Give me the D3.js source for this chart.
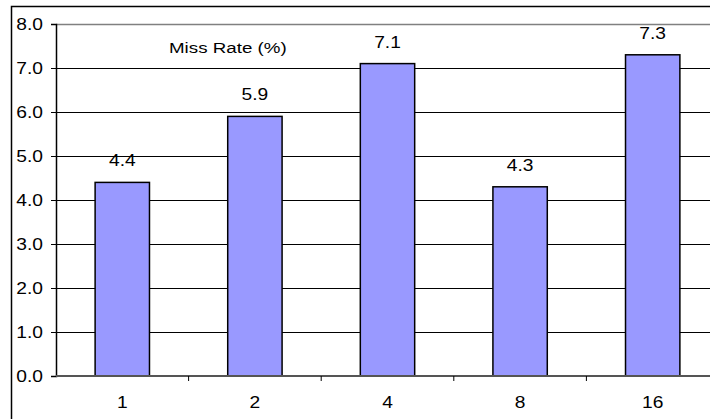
<!DOCTYPE html>
<html>
<head>
<meta charset="utf-8">
<script src="https://cdn.jsdelivr.net/npm/d3@7"></script>
<style>
  html, body { margin: 0; padding: 0; background: #fff; }
  svg { display: block; font-family: "Liberation Sans", Arial, sans-serif; }
</style>
</head>
<body>
<svg id="chart" width="710" height="419"></svg>
<script>
// Cache sizes on the x axis and the measured miss rate for each
const categories = ["1", "2", "4", "8", "16"];
const missRate = [4.4, 5.9, 7.1, 4.3, 7.3];
const yTicks = [0, 1, 2, 3, 4, 5, 6, 7, 8];
const titleText = "Miss Rate (%)";

const svg = d3.select("#chart");
const W = 710, H = 419;
const FONT = 16, STRETCH = 1.2;

// plot frame (extends past the right/bottom edges of the canvas)
const plot = { left: 56, right: 719, top: 24, bottom: 376 };

// outer chart border
svg.append("rect")
  .attr("x", 11.5).attr("y", 6.5)
  .attr("width", 720).attr("height", 430)
  .attr("fill", "#fff").attr("stroke", "#000").attr("stroke-width", 1.5);

const x = d3.scaleBand()
  .domain(categories)
  .range([plot.left, plot.right])
  .paddingInner(0.59)
  .paddingOuter(0.295);

const y = d3.scaleLinear().domain([0, 8]).range([plot.bottom, plot.top]);

// horizontal gridlines
svg.append("g").selectAll("line")
  .data(yTicks.filter(d => d > 0))
  .join("line")
  .attr("x1", plot.left).attr("x2", W + 20)
  .attr("y1", d => Math.round(y(d)) + 0.5).attr("y2", d => Math.round(y(d)) + 0.5)
  .attr("stroke", d => d === 8 ? "#808080" : "#000")
  .attr("stroke-width", d => d === 8 ? 1.5 : 1);

// y axis
const yAxis = svg.append("g")
  .attr("transform", `translate(${plot.left},0)`)
  .call(d3.axisLeft(y).tickValues(yTicks).tickFormat(d3.format(".1f")).tickSize(5).tickPadding(0));
yAxis.select(".domain").attr("stroke", "#000").attr("stroke-width", 1.5);
yAxis.selectAll(".tick line").attr("stroke", "#000");
yAxis.selectAll(".tick text")
  .attr("x", 0).attr("dy", "0.36em").attr("text-anchor", "end")
  .attr("font-size", FONT).attr("fill", "#000")
  .attr("font-family", "Liberation Sans, Arial, sans-serif")
  .attr("transform", `translate(-13,0) scale(${STRETCH},1)`);

// bars
svg.append("g").selectAll("rect")
  .data(missRate)
  .join("rect")
  .attr("x", (d, i) => x(categories[i]))
  .attr("y", d => y(d))
  .attr("width", x.bandwidth())
  .attr("height", d => y(0) - y(d))
  .attr("fill", "#9999FF")
  .attr("stroke", "#000")
  .attr("stroke-width", 1.5);

// x axis baseline and ticks at category boundaries
const step = x.step();
svg.append("line")
  .attr("x1", plot.left).attr("x2", W + 20)
  .attr("y1", y(0)).attr("y2", y(0))
  .attr("stroke", "#555").attr("stroke-width", 2);
svg.append("g").selectAll("line")
  .data(d3.range(1, categories.length + 1))
  .join("line")
  .attr("x1", i => plot.left + i * step).attr("x2", i => plot.left + i * step)
  .attr("y1", y(0)).attr("y2", y(0) + 5)
  .attr("stroke", "#000");

// category labels
svg.append("g").selectAll("text")
  .data(categories)
  .join("text")
  .attr("transform", d => `translate(${x(d) + x.bandwidth() / 2},408) scale(${STRETCH},1)`)
  .attr("text-anchor", "middle")
  .attr("font-size", FONT)
  .text(d => d);

// value labels above bars
svg.append("g").selectAll("text")
  .data(missRate)
  .join("text")
  .attr("transform", (d, i) => `translate(${x(categories[i]) + x.bandwidth() / 2},${y(d) - 16}) scale(${STRETCH},1)`)
  .attr("text-anchor", "middle")
  .attr("font-size", FONT)
  .text(d => d3.format(".1f")(d));

// series title
svg.append("text")
  .attr("transform", "translate(169,53) scale(1.25,1)")
  .attr("font-size", 15)
  .text(titleText);
</script>
</body>
</html>
